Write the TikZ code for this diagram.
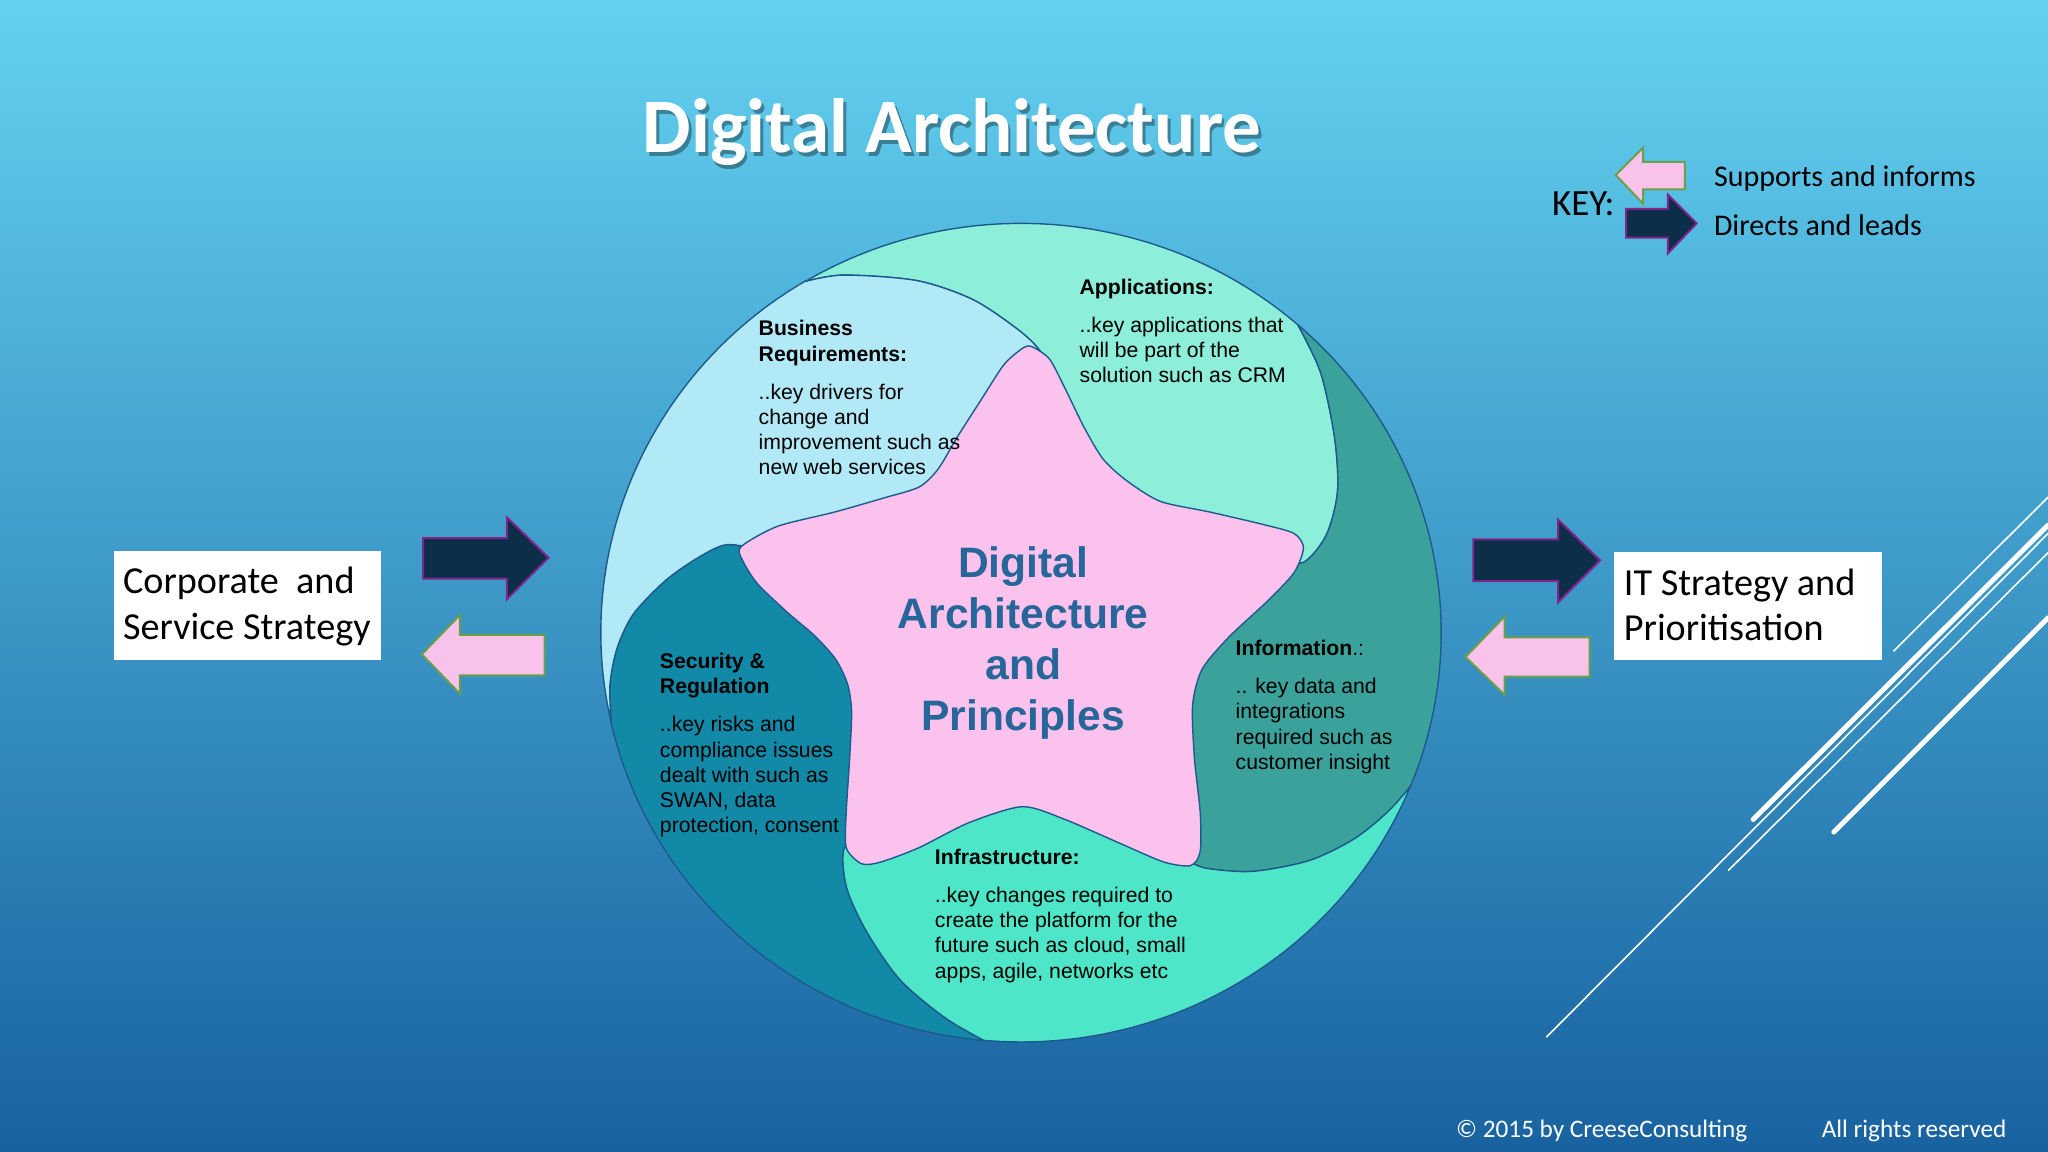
\documentclass[tikz,border=0pt]{standalone}
\usepackage{fontspec}
\setmainfont{Carlito}
\newfontfamily\arialfont{Liberation Sans}
\definecolor{bgtop}{RGB}{99,209,240}
\definecolor{bgmid}{RGB}{62,164,208}
\definecolor{bgbot}{RGB}{24,98,160}
\definecolor{busc}{RGB}{178,233,247}
\definecolor{appc}{RGB}{141,239,217}
\definecolor{infoc}{RGB}{58,162,155}
\definecolor{infrac}{RGB}{78,230,200}
\definecolor{secc}{RGB}{17,137,167}
\definecolor{starc}{RGB}{250,194,237}
\definecolor{edgec}{RGB}{30,90,140}
\definecolor{centc}{RGB}{38,102,153}
\definecolor{navyc}{RGB}{12,46,72}
\definecolor{purplec}{RGB}{128,36,140}
\definecolor{pinkc}{RGB}{249,194,235}
\definecolor{greenc}{RGB}{108,160,72}
\tikzset{
  ell/.style={x radius=321.7, y radius=313.4},
  piece/.style={draw=edgec, line width=0.7pt, line join=round},
  ptext/.style={inner sep=0pt, align=left, anchor=base west, text=black,
    font={\arialfont\fontsize{10.6pt}{12.6pt}\selectfont}},
  ctext/.style={inner sep=0pt, align=center, anchor=base, text=centc,
    font={\arialfont\bfseries\fontsize{21.3pt}{25.5pt}\selectfont}},
  boxtext/.style={inner sep=0pt, align=left, anchor=base west, text=black,
    font={\fontsize{19.1pt}{22.7pt}\selectfont}},
  titletext/.style={anchor=base, font={\bfseries\fontsize{38.5pt}{40pt}\selectfont}},
  navyarrow/.style={fill=navyc, draw=purplec, line width=1pt, line join=miter},
  pinkarrow/.style={fill=pinkc, draw=greenc, line width=1pt, line join=miter},
  thinline/.style={draw=white, line width=0.8pt, line cap=round},
  thickline/.style={draw=white, line width=2.5pt, line cap=round},
}
\begin{document}
\begin{tikzpicture}[x=0.6531pt, y=-0.6531pt]
\useasboundingbox (0,0) rectangle (1568,882);
% background
\shade[top color=bgtop, middle color=bgmid, bottom color=bgbot] (0,0) rectangle (1568,882);

% decorative diagonal lines
\draw[thickline] (1342.3,627.4) -- (1568,402.1);
\draw[thinline] (1184.2,793.8) -- (1568,408.5);
\draw[thinline] (1323.3,666.4) -- (1568,423.2);
\draw[thickline] (1404,637) -- (1568,473);
\draw[thinline] (1449.9,498.4) -- (1568,380.7);

% title
\node[titletext, text=black, opacity=0.35] (titleshadow) at (731,119.5) {Digital Architecture};
\node[titletext, text=white] (title) at (728.8,117) {Digital Architecture};

% pinwheel pieces
\coordinate (mid) at (783,490);
% Applications
\filldraw[piece, fill=appc] (616.5,215.5) arc[ell, start angle=-120.9, end angle=-48.8]
  -- plot[smooth] coordinates {(993.6,248.6) (1011.1,285.3) (1021.8,335.1) (1024,376.6) (1015.4,409.8) (998.2,430.5) (980,428)}
  -- (mid)
  -- plot[smooth] coordinates {(808,292) (796.3,268.7) (779.1,252.1) (744.7,229.3) (701.8,214.8) (645.9,210.6) (616.5,215.5)} -- cycle;
% Information
\filldraw[piece, fill=infoc] (993.6,248.6) arc[ell, start angle=-48.8, end angle=22.07]
  -- plot[smooth] coordinates {(1079.8,602.1) (1062.6,621.5) (1036.9,642.2) (1002.5,658.8) (959.5,667.1) (925.2,665.0) (912,660) (905,650)}
  -- (mid)
  -- plot[smooth] coordinates {(980,428) (998.2,430.5) (1015.4,409.8) (1024,376.6) (1021.8,335.1) (1011.1,285.3) (993.6,248.6)} -- cycle;
% Infrastructure
\filldraw[piece, fill=infrac] (1079.8,602.1) arc[ell, start angle=22.07, end angle=95.1]
  -- plot[smooth] coordinates {(753.1,796.6) (723.2,779.1) (688.9,750.1) (663.1,712.8) (648.1,679.6) (645.9,650.5) (660,640)}
  -- (mid)
  -- plot[smooth] coordinates {(905,650) (912,660) (925.2,665.0) (959.5,667.1) (1002.5,658.8) (1036.9,642.2) (1062.6,621.5) (1079.8,602.1)} -- cycle;
% Security
\filldraw[piece, fill=secc] (753.1,796.6) arc[ell, start angle=95.1, end angle=167.3]
  -- plot[smooth] coordinates {(467.9,553) (467,524) (472.5,496) (485,470) (510,444) (536,426) (556,417) (578,420)}
  -- (mid)
  -- plot[smooth] coordinates {(660,640) (645.9,650.5) (648.1,679.6) (663.1,712.8) (688.9,750.1) (723.2,779.1) (753.1,796.6)} -- cycle;
% Business
\filldraw[piece, fill=busc] (467.9,553) arc[ell, start angle=167.3, end angle=239.1]
  -- plot[smooth] coordinates {(616.5,215.5) (645.9,210.6) (701.8,214.8) (744.7,229.3) (779.1,252.1) (796.3,268.7) (808,292)}
  -- (mid)
  -- plot[smooth] coordinates {(578,420) (556,417) (536,426) (510,444) (485,470) (472.5,496) (467,524) (467.9,553)} -- cycle;

% star
\filldraw[piece, fill=starc] plot[smooth cycle, tension=0.45] coordinates {
 (788.5,264.9) (803.2,274.5) (814.9,296.3) (829.6,326.4) (844.2,351.0) (861.8,367.4)
 (888.2,383.8) (926.2,392.0) (967.3,401.6) (990.7,408.4) (998.0,419.4) (990.7,438.5)
 (970.2,460.4) (940.9,487.7) (920.4,512.3) (913.1,539.7) (914.5,580.7) (918.9,621.7)
 (918.9,651.8) (911.6,662.7) (891.1,660) (858.9,646.3) (814.9,627.2) (782.7,617.6)
 (741.7,629.9) (703.6,649) (674.3,660) (659.6,661.3) (647.9,649.0) (647.9,621.7)
 (650.5,580.7) (652,545) (649,524) (640,505) (624,487) (603,469) (580,447)
 (568.5,429) (567.3,418.6) (595.2,403) (639.1,392.0) (677.2,381.1) (703.6,372.9)
 (718.2,359.2) (732.9,334.6) (750.4,307.3) (768,280) (779.7,269)};

% texts in circle (anchored at the baseline of the last line)
\node[ctext] (core) at (783.4,559.5) {Digital\\Architecture\\and\\Principles};
\node[ptext] (apps) at (826.3,292.8) {\textbf{Applications:}\\[6.4pt]..key applications that\\will be part of the\\solution such as CRM};
\node[ptext] (bus) at (580.6,363.5) {\textbf{Business}\\\textbf{Requirements:}\\[6.4pt]..key drivers for\\change and\\improvement such as\\new web services};
\node[ptext] (sec) at (505,637.5) {\textbf{Security \&}\\\textbf{Regulation}\\[6.4pt]..key risks and\\compliance issues\\dealt with such as\\SWAN, data\\protection, consent};
\node[ptext] (info) at (945.8,589) {\textbf{Information}.:\\[6.4pt].. key data and\\integrations\\required such as\\customer insight};
\node[ptext] (infra) at (715.5,748.8) {\textbf{Infrastructure:}\\[6.4pt]..key changes required to\\create the platform for the\\future such as cloud, small\\apps, agile, networks etc};

% left box and arrows
\fill[white] (87,422) rectangle (292,505);
\node[boxtext] (corp) at (93.9,489.5) {Corporate\ \ and\\Service Strategy};
\draw[navyarrow] (324,412) -- (388,412) -- (388,396) -- (420,427) -- (388,459) -- (388,443) -- (324,443) -- cycle;
\draw[pinkarrow] (323,501) -- (352,471) -- (352,486) -- (417,486) -- (417,517) -- (352,517) -- (352,531) -- cycle;

% right box and arrows
\fill[white] (1236,422.4) rectangle (1440.6,505.3);
\node[boxtext] (itstrat) at (1243,490.3) {IT Strategy and\\Prioritisation};
\draw[navyarrow] (1128,413) -- (1193,413) -- (1193,398) -- (1225,429) -- (1193,461) -- (1193,445) -- (1128,445) -- cycle;
\draw[pinkarrow] (1122,503) -- (1152,472) -- (1152,488) -- (1217,488) -- (1217,518) -- (1152,518) -- (1152,532) -- cycle;

% key
\node[anchor=base west, inner sep=0pt, font={\fontsize{18.5pt}{20pt}\selectfont}] (key) at (1188,165) {KEY:};
\draw[pinkarrow] (1237,134) -- (1258,113) -- (1258,124) -- (1290,124) -- (1290,145) -- (1258,145) -- (1258,156) -- cycle;
\draw[navyarrow] (1245,160) -- (1277,160) -- (1277,149) -- (1299,171) -- (1277,194) -- (1277,182) -- (1245,182) -- cycle;
\node[anchor=base west, inner sep=0pt, font={\fontsize{15pt}{18pt}\selectfont}] (supp) at (1312,143) {Supports and informs};
\node[anchor=base west, inner sep=0pt, font={\fontsize{15pt}{18pt}\selectfont}] (dir) at (1312,180) {Directs and leads};

% footer
\node[anchor=base west, inner sep=0pt, text=white, font={\fontsize{12.6pt}{14pt}\selectfont}] (copy) at (1114.6,871) {© 2015 by CreeseConsulting};
\node[anchor=base west, inner sep=0pt, text=white, font={\fontsize{12.6pt}{14pt}\selectfont}] (rights) at (1394.5,871) {All rights reserved};
\end{tikzpicture}
\end{document}
